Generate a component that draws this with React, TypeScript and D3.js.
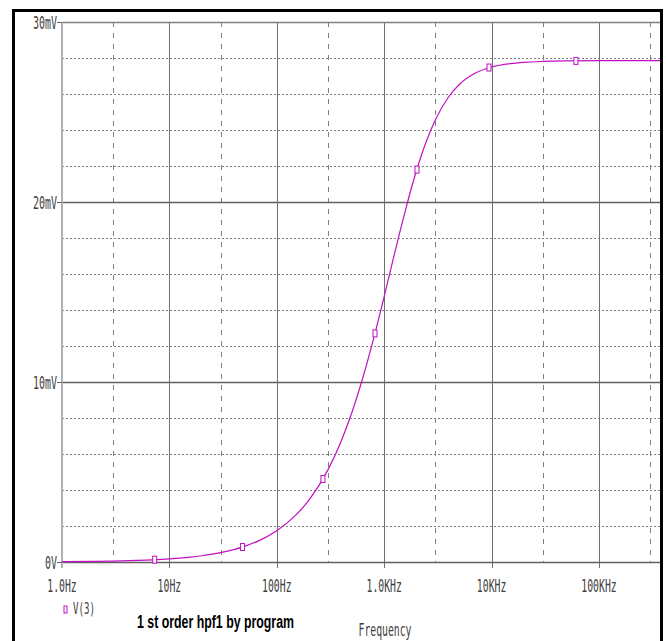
import React from "react";
import * as d3 from "d3";

const freqHz = [1, 2, 3, 5, 7, 10, 15, 20, 30, 50, 70, 100, 150, 200, 300, 400, 500, 600, 700, 800, 900, 1000, 1200, 1400, 1600, 1800, 2000, 2500, 3000, 4000, 5000, 7000, 10000, 15000, 20000, 30000, 50000, 100000, 200000, 400000];
const v3mV = [0.017, 0.035, 0.052, 0.087, 0.122, 0.174, 0.261, 0.348, 0.522, 0.87, 1.217, 1.737, 2.6, 3.454, 5.133, 6.755, 8.307, 9.779, 11.16, 12.45, 13.65, 14.76, 16.71, 18.34, 19.69, 20.82, 21.75, 23.46, 24.57, 25.86, 26.53, 27.15, 27.5, 27.69, 27.76, 27.81, 27.84, 27.85, 27.85, 27.85];
const markerHz = [7.3, 48, 269, 821, 2020, 9460, 61000];
const markerMV = [0.127, 0.835, 4.61, 12.7, 21.8, 27.47, 27.84];
const xTickHz = [1, 10, 100, 1000, 10000, 100000];
const xTickLabels = ["1.0Hz", "10Hz", "100Hz", "1.0KHz", "10KHz", "100KHz"];
const xDashHz = [3, 30, 300, 3000, 30000, 300000];
const yTickMV = [0, 10, 20, 30];
const yTickLabels = ["0V", "10mV", "20mV", "30mV"];
const yDotMV = [2, 4, 6, 8, 12, 14, 16, 18, 22, 24, 26, 28];
const legendLabel = "V(3)";
const titleText = "1 st order hpf1 by program";
const xTitle = "Frequency";

const W = 666;
const H = 641;
const PL = 62;
const PR = 660;
const PT = 22;
const PB = 562;
const MAG = "#c010c0";
const MONO = "'DejaVu Sans Mono', monospace";
const LBL = "#404040";

function SqueezedText(props: {
  x: number; y: number; text: string; width: number; fontSize: number; natural: number;
  anchor?: "start" | "middle" | "end"; family: string; weight?: string; fill: string;
}) {
  const { x, y, text, width, fontSize, natural, anchor = "start", family, weight = "normal", fill } = props;
  const sx = width / natural;
  return (
    <g transform={`translate(${x},${y}) scale(${sx},1)`}>
      <text x={0} y={0} textAnchor={anchor} fontFamily={family} fontWeight={weight} fontSize={fontSize} fill={fill}
        textLength={natural} lengthAdjust="spacingAndGlyphs">{text}</text>
    </g>
  );
}

function Mono(props: { x: number; y: number; text: string; width: number; fontSize: number; anchor?: "start" | "middle" | "end" }) {
  const natural = props.text.length * 0.602 * props.fontSize;
  return <SqueezedText {...props} natural={natural} family={MONO} fill={LBL} />;
}

export default function App() {
  const x = d3.scaleLog().domain([1, 1e5]).range([PL, 599]);
  const y = d3.scaleLinear().domain([0, 30]).range([PB, PT]);
  const pts = freqHz.map((f, i) => [x(f), y(v3mV[i])] as [number, number]);
  const line = d3.line().curve(d3.curveMonotoneX)(pts) || "";

  return (
    <svg width={W} height={H} style={{ position: "absolute", left: 0, top: 0, background: "#fff" }}>
      <defs>
        <clipPath id="plotclip">
          <rect x={PL} y={PT - 5} width={PR - PL} height={PB - PT + 10} />
        </clipPath>
      </defs>
      <rect x={0} y={0} width={W} height={H} fill="#fff" />
      {/* dotted horizontal grid */}
      {yDotMV.map((v) => (
        <line key={"hd" + v} x1={PL} x2={PR} y1={Math.round(y(v)) + 0.5} y2={Math.round(y(v)) + 0.5} stroke="#808080" strokeWidth={1} strokeDasharray="2,2" />
      ))}
      {/* dashed vertical grid */}
      {xDashHz.map((f) => (
        <line key={"vd" + f} x1={Math.round(x(f)) + 0.5} x2={Math.round(x(f)) + 0.5} y1={PT} y2={PB} stroke="#808080" strokeWidth={1} strokeDasharray="5,6" clipPath="url(#plotclip)" />
      ))}
      {/* solid grid */}
      {yTickMV.slice(1, 3).map((v) => (
        <line key={"hs" + v} x1={PL} x2={PR} y1={y(v) + 0.5} y2={y(v) + 0.5} stroke="#606060" strokeWidth={1.5} />
      ))}
      {xTickHz.slice(1).map((f) => (
        <line key={"vs" + f} x1={Math.round(x(f)) + 0.5} x2={Math.round(x(f)) + 0.5} y1={PT} y2={PB + 6} stroke="#707070" strokeWidth={1} />
      ))}
      {/* axes */}
      <line x1={PL} x2={PR} y1={PT + 0.5} y2={PT + 0.5} stroke="#808080" strokeWidth={1.5} />
      <line x1={PL} x2={PR} y1={PB + 0.5} y2={PB + 0.5} stroke="#606060" strokeWidth={1.5} />
      <line x1={PL} x2={PL} y1={PT} y2={PB + 6} stroke="#b0b0b0" strokeWidth={2} />
      {yTickMV.map((v) => (
        <line key={"yt" + v} x1={PL - 5} x2={PL} y1={y(v) + 0.5} y2={y(v) + 0.5} stroke="#606060" strokeWidth={1} />
      ))}
      {/* curve */}
      <g clipPath="url(#plotclip)">
        <path d={line} fill="none" stroke={MAG} strokeWidth={1.2} />
        {markerHz.map((f, i) => (
          <rect key={"m" + f} x={x(f) - 2} y={y(markerMV[i]) - 3.5} width={4} height={7} fill="#fff" stroke={MAG} strokeWidth={1} />
        ))}
      </g>
      {/* y labels */}
      {yTickMV.map((v, i) => (
        <Mono key={"yl" + v} x={57} y={y(v) + 6.5} anchor="end" fontSize={18} text={yTickLabels[i]} width={yTickLabels[i].length * 6} />
      ))}
      {/* x labels */}
      {xTickHz.map((f, i) => (
        <Mono key={"xl" + f} x={x(f)} y={592} anchor="middle" fontSize={17} text={xTickLabels[i]} width={xTickLabels[i].length * 5.9} />
      ))}
      <Mono x={385} y={636} anchor="middle" fontSize={17} text={xTitle} width={53} />
      {/* legend */}
      <rect x={64} y={606} width={3} height={7} fill="#fff" stroke={MAG} strokeWidth={1} />
      <Mono x={73} y={614} fontSize={16} text={legendLabel} width={22} />
      <SqueezedText x={137} y={628} text={titleText} width={157} fontSize={19} natural={241.8}
        family="'Liberation Sans', Arial, sans-serif" weight="bold" fill="#000" />
      {/* outer frame */}
      <rect x={13.5} y={10.5} width={648} height={700} fill="none" stroke="#000" strokeWidth={3} />
    </svg>
  );
}
